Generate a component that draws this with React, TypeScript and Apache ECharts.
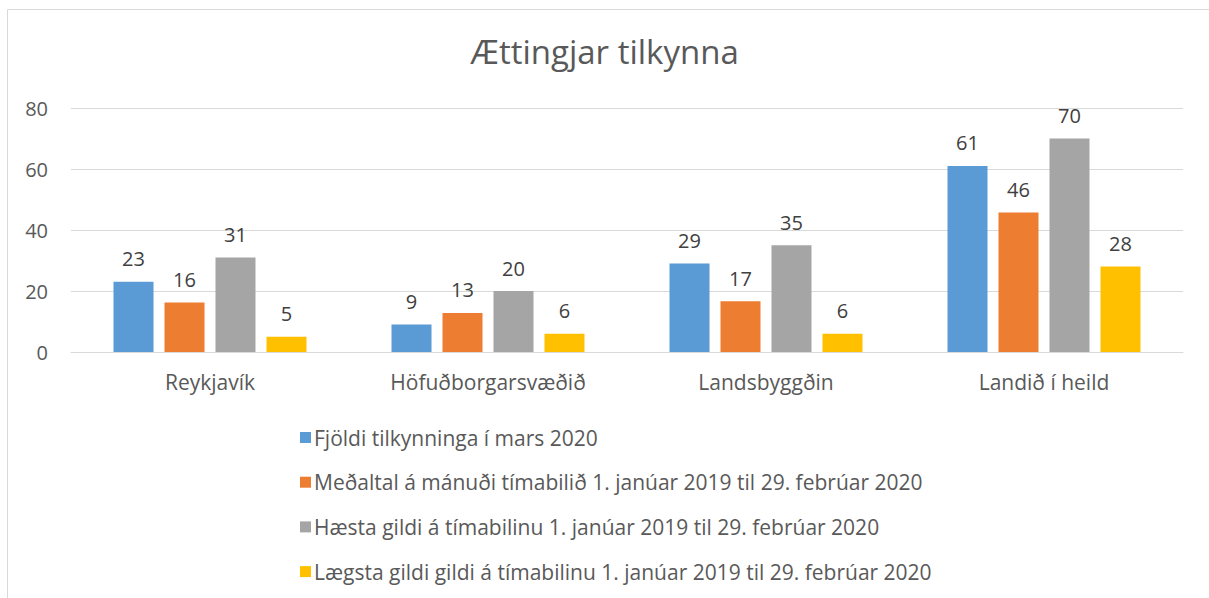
import React, { useEffect, useRef } from "react";
import * as echarts from "echarts";

const categories = ["Reykjavík", "Höfuðborgarsvæðið", "Landsbyggðin", "Landið í heild"];
const seriesNames = [
  "Fjöldi tilkynninga í mars 2020",
  "Meðaltal á mánuði tímabilið 1. janúar 2019 til 29. febrúar 2020",
  "Hæsta gildi á tímabilinu 1. janúar 2019 til 29. febrúar 2020",
  "Lægsta gildi gildi á tímabilinu 1. janúar 2019 til 29. febrúar 2020",
];
const marsValues = [23, 9, 29, 61];
const medaltalValues = [16.2, 12.8, 16.6, 45.7];
const haestaValues = [31, 20, 35, 70];
const laegstaValues = [5, 6, 6, 28];
const colors = ["#5b9bd5", "#ed7d31", "#a5a5a5", "#ffc000"];
const title = "Ættingjar tilkynna";

const FONT = "'Open Sans', sans-serif";

export default function App() {
  const ref = useRef<HTMLDivElement>(null);
  useEffect(() => {
    document.body.style.margin = "0";
    const chart = echarts.init(ref.current!, null, { renderer: "svg" });
    const allValues = [marsValues, medaltalValues, haestaValues, laegstaValues];
    chart.setOption({
      animation: false,
      backgroundColor: "#ffffff",
      textStyle: { fontFamily: FONT },
      title: {
        text: title,
        left: "center",
        top: 30,
        textStyle: { fontFamily: FONT, fontSize: 33, fontWeight: "normal", color: "#595959" },
      },
      graphic: [
        {
          type: "rect",
          shape: { x: 7.5, y: 9.5, width: 1210, height: 600 },
          style: { fill: "none", stroke: "#d9d9d9", lineWidth: 1 },
          silent: true,
        },
      ],
      legend: {
        orient: "vertical",
        left: 295,
        top: 422,
        itemWidth: 11,
        itemHeight: 11,
        itemGap: 23.7,
        icon: "rect",
        textStyle: { fontFamily: FONT, fontSize: 21, color: "#595959", padding: [0, 0, 0, -2] },
        data: seriesNames,
      },
      grid: { left: 71, right: 26, top: 108, bottom: 246, containLabel: false },
      xAxis: {
        type: "category",
        data: categories,
        axisLine: { show: true, lineStyle: { color: "#d9d9d9", width: 1 } },
        axisTick: { show: false },
        axisLabel: { fontFamily: FONT, fontSize: 21, color: "#595959", margin: 19 },
      },
      yAxis: {
        type: "value",
        min: 0,
        max: 80,
        interval: 20,
        axisLine: { show: false },
        axisTick: { show: false },
        splitLine: { lineStyle: { color: "#d9d9d9", width: 1 } },
        axisLabel: { fontFamily: FONT, fontSize: 20, color: "#595959", margin: 23 },
      },
      series: seriesNames.map((name, i) => ({
        name,
        type: "bar",
        data: allValues[i],
        barWidth: 40,
        barGap: "27.5%",
        itemStyle: { color: colors[i] },
        label: {
          show: true,
          position: "top",
          distance: 13,
          fontFamily: FONT,
          fontSize: 20,
          color: "#404040",
          formatter: (p: any) => String(Math.round(p.value)),
        },
      })),
    });
    return () => chart.dispose();
  }, []);
  return <div ref={ref} style={{ width: 1209, height: 598, position: "absolute", left: 0, top: 0 }} />;
}
